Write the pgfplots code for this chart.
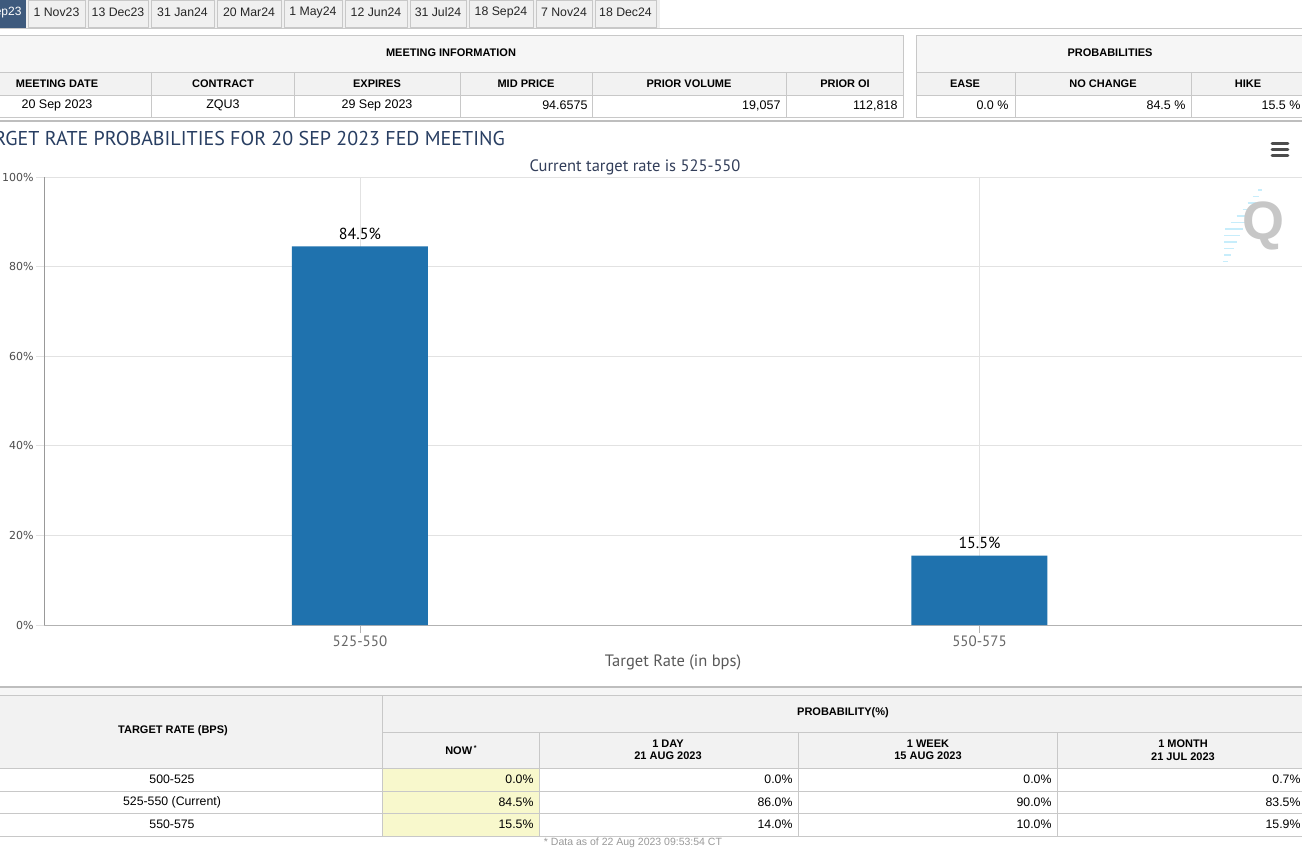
\documentclass[border=0pt]{standalone}
\usepackage{pgfplots}
\pgfplotsset{compat=1.18}
\usepackage{fontspec}
\setmainfont{Liberation Sans}
\newfontfamily\chartfont{PT Sans}
\newfontfamily\tickfont{DejaVu Sans}
\newcommand{\fs}[1]{\fontsize{#1}{#1}\selectfont}
\definecolor{barblue}{RGB}{31,114,174}
\definecolor{gridgray}{RGB}{226,226,226}
\definecolor{tblborder}{RGB}{200,200,200}
\definecolor{hdrgray}{RGB}{242,242,242}
\definecolor{hdrgray2}{RGB}{246,246,246}
\definecolor{tabbg}{RGB}{240,240,240}
\definecolor{titlenavy}{RGB}{40,62,98}
\definecolor{subnavy}{RGB}{50,62,90}
\definecolor{nowyellow}{RGB}{248,248,204}
\definecolor{tabdark}{RGB}{62,90,125}
\definecolor{ticktext}{RGB}{102,102,102}
\definecolor{sepgray}{RGB}{190,190,190}
\begin{document}
\begin{tikzpicture}
\useasboundingbox (0pt,0pt) rectangle (1302pt,-848pt);
\clip (0pt,0pt) rectangle (1302pt,-848pt);
\fill[white] (0pt,0pt) rectangle (1302pt,-848pt);
\begin{scope}[x=1pt,y=-1pt]
% ---- tabs ----
\fill[tabbg] (0,0) rectangle (1302,29);
\fill[white] (660,0) rectangle (1302,29);
\filldraw[fill=tabdark,draw=tabdark] (-5,0) rectangle (25,27);
\node[anchor=east,text=white,font=\fs{12}] at (25,12.5) {Sep23};
\foreach \a/\b/\t in {26/86/1 Nov23,86/149/13 Dec23,149/215/31 Jan24,215/282/20 Mar24,282/343/1 May24,343/408/12 Jun24,408/467/31 Jul24,467/534/18 Sep24,534/593/7 Nov24,593/657/18 Dec24}{
  \filldraw[fill=tabbg,draw=tblborder] (\a+2,0) rectangle (\b-1,27);
  \node[font=\fs{12.3},text=black!85] at ({(\a+\b)/2+0.5},12.5) {\t};
}
\draw[tblborder] (0,28.5) -- (1302,28.5);
% ---- meeting information table ----
\fill[hdrgray2] (0,35) rectangle (903,72);
\fill[hdrgray] (0,72) rectangle (903,95);
\fill[white] (0,95) rectangle (903,117);
\draw[tblborder] (-1,35) rectangle (903,117);
\draw[tblborder] (0,72) -- (903,72) (0,95) -- (903,95);
\foreach \x in {151,294,460,592,786}{\draw[tblborder] (\x,72) -- (\x,117);}
\node[font=\bfseries\fs{11}] at (451,52.5) {MEETING INFORMATION};
\foreach \x/\t in {57/MEETING DATE,223/CONTRACT,377/EXPIRES,526/MID PRICE,689/PRIOR VOLUME,845/PRIOR OI}{
  \node[font=\bfseries\fs{11}] at (\x,83.5) {\t};}
\node[font=\fs{12.5}] at (57,105.5) {20 Sep 2023};
\node[font=\fs{12.5}] at (223,105.5) {ZQU3};
\node[font=\fs{12.5}] at (377,105.5) {29 Sep 2023};
\node[font=\fs{12.5},anchor=east] at (591,105.5) {94.6575};
\node[font=\fs{12.5},anchor=east] at (784,105.5) {19,057};
\node[font=\fs{12.5},anchor=east] at (901,105.5) {112,818};
% ---- probabilities table ----
\fill[hdrgray2] (916,35) rectangle (1310,72);
\fill[hdrgray] (916,72) rectangle (1310,95);
\fill[white] (916,95) rectangle (1310,117);
\draw[tblborder] (916,35) rectangle (1310,117);
\draw[tblborder] (916,72) -- (1310,72) (916,95) -- (1310,95);
\foreach \x in {1015,1191}{\draw[tblborder] (\x,72) -- (\x,117);}
\node[font=\bfseries\fs{11}] at (1110,52.5) {PROBABILITIES};
\node[font=\bfseries\fs{11}] at (965,83.5) {EASE};
\node[font=\bfseries\fs{11}] at (1103,83.5) {NO CHANGE};
\node[font=\bfseries\fs{11}] at (1248,83.5) {HIKE};
\node[font=\fs{12.5},anchor=east] at (1012,105.5) {0.0 \%};
\node[font=\fs{12.5},anchor=east] at (1189,105.5) {84.5 \%};
\node[font=\fs{12.5},anchor=east] at (1304,105.5) {15.5 \%};
% ---- separators ----
\draw[sepgray,line width=2pt] (0,121.5) -- (1302,121.5);
% ---- chart title ----
\node[anchor=east,font=\chartfont\fs{20},text=titlenavy,inner sep=0pt] at (505,139) {TARGET RATE PROBABILITIES FOR 20 SEP 2023 FED MEETING};
\foreach \yy in {143.5,149.5,155.5}{\draw[black!70,line width=2.6pt,line cap=round] (1272,\yy) -- (1288,\yy);}
\node[font=\chartfont\fs{16.5},text=subnavy] at (635,167) {Current target rate is 525-550};
% watermark
\foreach \i/\l in {0/4,1/6,2/8,3/10,4/13,5/16,6/18,7/16,8/13,9/10,10/7,11/5}{\draw[cyan!22,line width=1.2pt] ({1262-3.1*\i-\l},{190+6.5*\i}) -- ({1262-3.1*\i},{190+6.5*\i});}
\node[font=\bfseries\fs{54},text=black!22] at (1263,226) {Q};
% ---- bottom table ----
\draw[sepgray,line width=2pt] (0,686.5) -- (1302,686.5);
\fill[hdrgray2] (0,688) rectangle (1302,695);
\fill[hdrgray] (0,695) rectangle (1302,768);
\fill[nowyellow] (382,768) rectangle (539,836);
\draw[tblborder] (0,695) -- (1302,695);
\draw[tblborder] (382,732) -- (1302,732);
\foreach \yy in {768,791,813,836}{\draw[tblborder] (0,\yy) -- (1302,\yy);}
\draw[tblborder] (382,695) -- (382,836);
\foreach \x in {539,798,1057}{\draw[tblborder] (\x,732) -- (\x,836);}
\node[font=\bfseries\fs{11}] at (173,731) {TARGET RATE (BPS)};
\node[font=\bfseries\fs{11}] at (843,713) {PROBABILITY(\%)};
\node[font=\bfseries\fs{11}] at (461,750) {NOW\,\raisebox{4pt}{\fs{7}*}};
\node[font=\bfseries\fs{11},align=center] at (668,750) {1 DAY\\[1.5pt]21 AUG 2023};
\node[font=\bfseries\fs{11},align=center] at (928,750) {1 WEEK\\[1.5pt]15 AUG 2023};
\node[font=\bfseries\fs{11},align=center] at (1183,750) {1 MONTH\\[1.5pt]21 JUL 2023};
\foreach \yy/\t/\a/\b/\c/\d in {779.5/500-525/0.0/0.0/0.0/0.7,802/525-550 (Current)/84.5/86.0/90.0/83.5,824.5/550-575/15.5/14.0/10.0/15.9}{
  \node[font=\fs{12.3}] at (172,\yy) {\t};
  \node[font=\fs{12.3},anchor=east] at (537,\yy) {\a\%};
  \node[font=\fs{12.3},anchor=east] at (796,\yy) {\b\%};
  \node[font=\fs{12.3},anchor=east] at (1055,\yy) {\c\%};
  \node[font=\fs{12.3},anchor=east] at (1304,\yy) {\d\%};
}
\node[font=\fs{10.5},text=black!40] at (633,843) {* Data as of 22 Aug 2023 09:53:54 CT};
\end{scope}
% ---- chart ----
\begin{axis}[
  at={(44pt,-625pt)}, anchor=south west,
  width=1258pt, height=448pt, scale only axis,
  xmin=-0.51, xmax=1.5206, ymin=0, ymax=100,
  axis x line*=bottom, axis y line*=left,
  axis line style={-, draw=black!40},
  x axis line style={draw=black!30, line width=1pt},
  xtick={0,1}, xticklabels={525-550,550-575},
  ytick={0,20,40,60,80,100},
  yticklabel={\pgfmathprintnumber{\tick}\%},
  ymajorgrids, xmajorgrids,
  grid style={draw=gridgray, line width=0.8pt},
  xtick style={draw=black!30, line width=0.8pt},
  ytick style={draw=gridgray, line width=0.8pt},
  tick align=outside, major tick length=8pt,
  tick label style={font=\chartfont\fs{15}, text=ticktext},
  yticklabel style={font=\tickfont\fs{11}, text=black!70, xshift=1pt},
  xticklabel style={yshift=1pt},
  xlabel={Target Rate (in bps)},
  xlabel style={font=\chartfont\fs{16.5}, text=black!65, yshift=-1pt},
  /pgf/number format/assume math mode=true,
  nodes near coords={\pgfmathprintnumber[fixed,fixed zerofill,precision=1]{\pgfplotspointmeta}\%},
  nodes near coords style={font=\chartfont\fs{16}, text=black, anchor=south, yshift=3pt},
]
\addplot[ybar, bar width=136pt, fill=barblue, draw=none] coordinates {(0,84.5) (1,15.5)};
\end{axis}
\end{tikzpicture}
\end{document}
